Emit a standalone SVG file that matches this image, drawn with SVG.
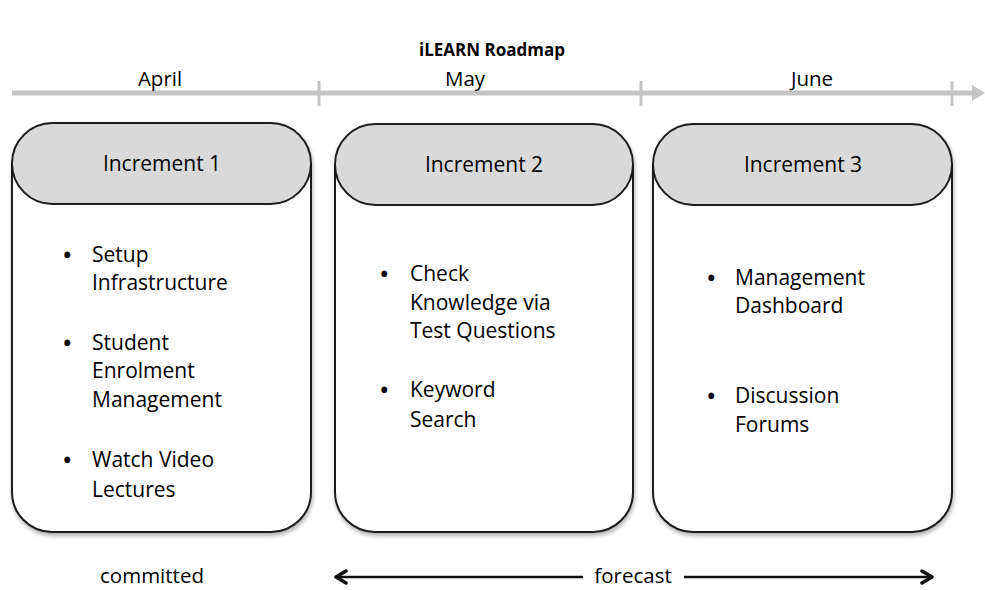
<svg xmlns="http://www.w3.org/2000/svg" width="985" height="590" viewBox="0 0 985 590">
<style>
text{font-family:"Open Sans","Noto Sans","Liberation Sans",sans-serif;fill:#000}
.t{font-size:21px}
.b{font-size:28px}
.h{font-size:21px;text-anchor:middle}
.m{font-size:20.5px;text-anchor:middle}
.title{font-size:17px;font-weight:bold;text-anchor:middle}
.body{fill:#fff;stroke:#1a1a1a;stroke-width:2}
.head{fill:#d9d9d9;stroke:#1a1a1a;stroke-width:2}
.tl{stroke:#c4c4c4;stroke-width:5;fill:none}
.tick{stroke:#c4c4c4;stroke-width:3}
.fa{stroke:#111;stroke-width:2.5;fill:none}
</style>
<defs>
<filter id="sh" x="-10%" y="-10%" width="120%" height="120%">
<feGaussianBlur in="SourceAlpha" stdDeviation="2"/>
<feOffset dx="1" dy="3"/>
<feComponentTransfer><feFuncA type="linear" slope="0.3"/></feComponentTransfer>
<feMerge><feMergeNode/><feMergeNode in="SourceGraphic"/></feMerge>
</filter>
<marker id="ah" viewBox="0 0 16 16" refX="14" refY="8" markerWidth="16" markerHeight="16" markerUnits="userSpaceOnUse" orient="auto-start-reverse">
<path d="M4,2 L14,8 L4,14" fill="none" stroke="#111" stroke-width="3.5" stroke-linecap="round" stroke-linejoin="round"/>
</marker>
</defs>
<text class="title" x="492" y="56">iLEARN Roadmap</text>
<g id="timeline">
<line class="tl" x1="12" y1="93" x2="975" y2="93"/>
<path d="M972,85 L985,93 L972,101 Z" fill="#c4c4c4"/>
<line class="tick" x1="319" y1="81" x2="319" y2="106"/>
<line class="tick" x1="641" y1="81" x2="641" y2="106"/>
<line class="tick" x1="952" y1="81" x2="952" y2="106"/>
<text class="m" x="160" y="86">April</text>
<text class="m" x="465" y="86">May</text>
<text class="m" x="812" y="86">June</text>
</g>
<g id="inc1" filter="url(#sh)">
<path class="body" d="M12,163 L12,492 A40,40 0 0 0 52,532 L271,532 A40,40 0 0 0 311,492 L311,163"/>
<rect class="head" x="12" y="123" width="299" height="81" rx="40.5"/>
</g>
<g id="inc1-text">
<text class="h" x="162" y="171">Increment 1</text>
<text class="b" x="62" y="265">•</text>
<text class="t" x="92" y="262">Setup</text>
<text class="t" x="92" y="290">Infrastructure</text>
<text class="b" x="62" y="353">•</text>
<text class="t" x="92" y="350">Student</text>
<text class="t" x="92" y="378">Enrolment</text>
<text class="t" x="92" y="407">Management</text>
<text class="b" x="62" y="470">•</text>
<text class="t" x="92" y="467">Watch Video</text>
<text class="t" x="92" y="497">Lectures</text>
</g>
<g id="inc2" filter="url(#sh)">
<path class="body" d="M335,164 L335,492 A40,40 0 0 0 375,532 L593,532 A40,40 0 0 0 633,492 L633,164"/>
<rect class="head" x="335" y="124" width="298" height="81" rx="40.5"/>
</g>
<g id="inc2-text">
<text class="h" x="484" y="172">Increment 2</text>
<text class="b" x="379" y="284">•</text>
<text class="t" x="410" y="281">Check</text>
<text class="t" x="410" y="310">Knowledge via</text>
<text class="t" x="410" y="338">Test Questions</text>
<text class="b" x="379" y="400">•</text>
<text class="t" x="410" y="397">Keyword</text>
<text class="t" x="410" y="427">Search</text>
</g>
<g id="inc3" filter="url(#sh)">
<path class="body" d="M653,164 L653,492 A40,40 0 0 0 693,532 L912,532 A40,40 0 0 0 952,492 L952,164"/>
<rect class="head" x="653" y="124" width="299" height="81" rx="40.5"/>
</g>
<g id="inc3-text">
<text class="h" x="803" y="172">Increment 3</text>
<text class="b" x="706" y="288">•</text>
<text class="t" x="735" y="285">Management</text>
<text class="t" x="735" y="313">Dashboard</text>
<text class="b" x="706" y="406">•</text>
<text class="t" x="735" y="403">Discussion</text>
<text class="t" x="735" y="432">Forums</text>
</g>
<text class="m" x="152" y="583">committed</text>
<g id="connectors">
<line class="fa" x1="336" y1="577" x2="583" y2="577" marker-start="url(#ah)"/>
<line class="fa" x1="684" y1="577" x2="932" y2="577" marker-end="url(#ah)"/>
</g>
<text class="m" x="633" y="583">forecast</text>
</svg>
